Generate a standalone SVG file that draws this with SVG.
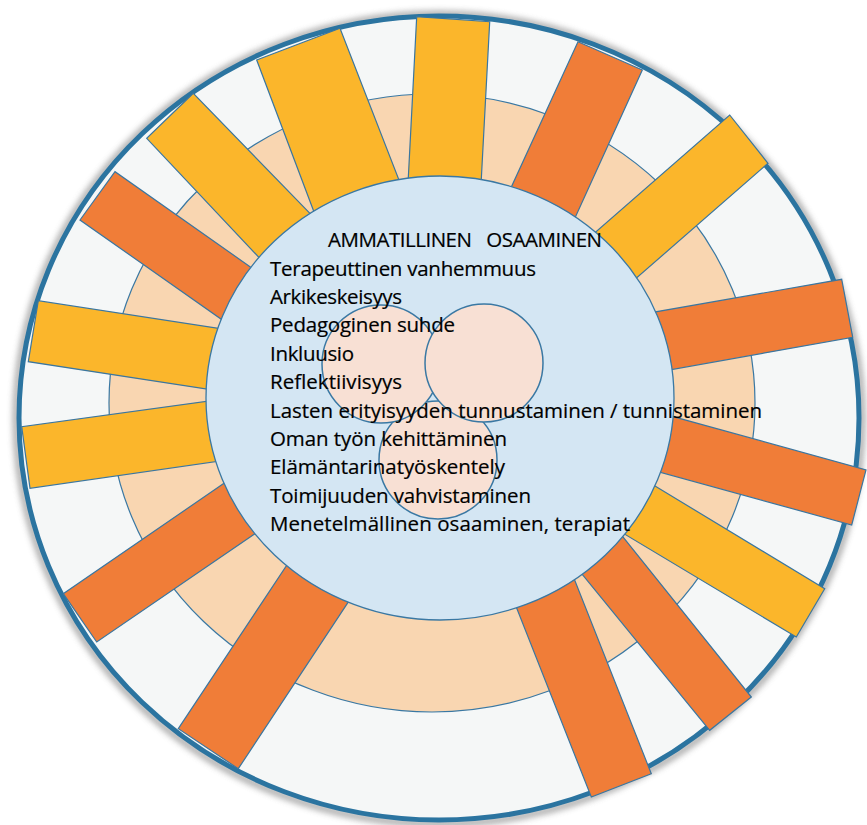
<svg xmlns="http://www.w3.org/2000/svg" width="867" height="825" viewBox="0 0 867 825">
<defs>
<style>
.o{fill:#F07D38;stroke:#3A76A0;stroke-width:1.2}
.y{fill:#FBB62B;stroke:#3A76A0;stroke-width:1.2}
.v{fill:#F8E0D4;stroke:#3A78A3;stroke-width:1.5}
.t{font-family:"Open Sans","Liberation Sans",sans-serif;font-size:20.5px;fill:#000;stroke:#000;stroke-width:0.2}
</style>
<filter id="blur" x="-10%" y="-10%" width="120%" height="120%"><feGaussianBlur stdDeviation="3"/></filter>
</defs>
<rect width="867" height="825" fill="#fff"/>
<g id="rings">
<ellipse cx="439" cy="419" rx="423" ry="405" fill="none" stroke="#8a8a8a" stroke-width="6" filter="url(#blur)" opacity="0.8"/>
<ellipse cx="439" cy="418" rx="420" ry="402" fill="#F5F7F7" stroke="#2B74A0" stroke-width="5"/>
<ellipse cx="432" cy="403" rx="323" ry="309" fill="#F9D6B1" stroke="#3A78A3" stroke-width="1.2"/>
</g>
<g id="bars">
<polygon class="y" points="416.7,16.7 489.7,21.7 479.2,218.2 406.2,218.2"/>
<polygon class="o" points="578,41.7 642.3,70 559.7,251.4 496.3,219.7"/>
<polygon class="y" points="729.7,115 768,163.3 607.8,303 567.9,256.3"/>
<polygon class="o" points="841.7,279.3 852.7,337.3 633.9,376.3 617.3,318.6"/>
<polygon class="o" points="866,469.8 851.7,525 623.1,462.1 634.7,406.1"/>
<polygon class="y" points="824.7,588.7 796.3,637 591.7,514.4 620.8,465.3"/>
<polygon class="o" points="751.3,697 709.7,730.3 557.7,544.3 598,505.8"/>
<polygon class="o" points="651.3,773.7 591.3,797 501.6,569.8 560,543.1"/>
<polygon class="o" points="238.3,768.7 178.3,728.7 308.8,532 370.3,568.6"/>
<polygon class="o" points="63.3,593.7 96.7,642 288,511.1 256.3,461.1"/>
<polygon class="y" points="21.7,426.7 30,488.3 254.6,456 247.9,395.6"/>
<polygon class="y" points="38.3,300.7 28.3,361.7 247.8,395.4 257.8,334.4"/>
<polygon class="o" points="115,171.7 80,220 252.7,341.3 282.7,289.7"/>
<polygon class="y" points="193.3,93.3 146.7,138.3 285.7,285.8 336.2,240.4"/>
<polygon class="y" points="256.7,60 340,28.3 412.8,215.6 327.4,247.4"/>
</g>
<g id="core">
<ellipse cx="440" cy="398" rx="234" ry="222" fill="#D4E6F3" stroke="#3A78A3" stroke-width="1.3"/>
</g>
<g id="venn">
<circle class="v" cx="438" cy="460" r="59"/>
<circle class="v" cx="381" cy="364" r="59"/>
<circle class="v" cx="484" cy="363" r="59"/>
</g>
<g id="labels" class="t">
<text x="328" y="247" textLength="274" lengthAdjust="spacing" word-spacing="10">AMMATILLINEN OSAAMINEN</text>
<text x="270" y="275.5" textLength="266" lengthAdjust="spacing">Terapeuttinen vanhemmuus</text>
<text x="270" y="304" textLength="132" lengthAdjust="spacing">Arkikeskeisyys</text>
<text x="270" y="332" textLength="185" lengthAdjust="spacing">Pedagoginen suhde</text>
<text x="270" y="360.5" textLength="84" lengthAdjust="spacing">Inkluusio</text>
<text x="270" y="389" textLength="132" lengthAdjust="spacing">Reflektiivisyys</text>
<text x="270" y="417.5" textLength="492" lengthAdjust="spacing">Lasten erityisyyden tunnustaminen / tunnistaminen</text>
<text x="270" y="446" textLength="237" lengthAdjust="spacing">Oman työn kehittäminen</text>
<text x="270" y="474" textLength="235" lengthAdjust="spacing">Elämäntarinatyöskentely</text>
<text x="270" y="502.5" textLength="261" lengthAdjust="spacing">Toimijuuden vahvistaminen</text>
<text x="270" y="530.5" textLength="360" lengthAdjust="spacing">Menetelmällinen osaaminen, terapiat</text>
</g>
</svg>
